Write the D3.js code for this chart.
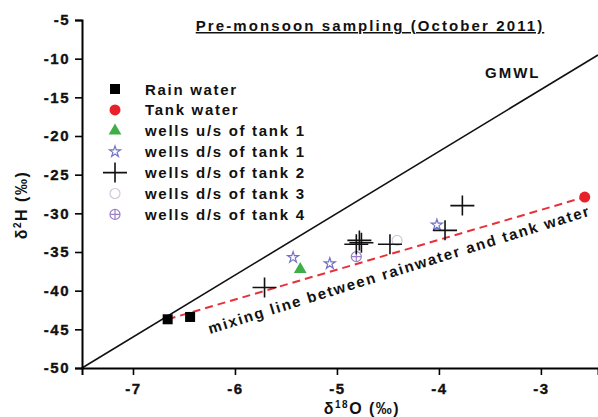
<!DOCTYPE html>
<html>
<head>
<meta charset="utf-8">
<script src="https://cdn.jsdelivr.net/npm/d3@7"></script>
<style>
  body { margin: 0; background: #fff; }
  svg { display: block; font-family: 'Liberation Sans', Arial, sans-serif; }
  .txt { font-weight: bold; fill: #111; }
</style>
</head>
<body>
<svg id="chart" width="598" height="417"></svg>
<script>
// values (delta 18O, delta 2H)
const xTicks = [-7, -6, -5, -4, -3];
const yTicks = [-50, -45, -40, -35, -30, -25, -20, -15, -10, -5];
const rainWater = [[-6.66, -43.7], [-6.44, -43.4]];
const tankWater = [[-2.57, -27.9]];
const wellsUs1 = [[-5.36, -37.25]];
const wellsDs1 = [[-5.43, -35.7], [-5.07, -36.5], [-4.02, -31.5]];
const wellsDs2 = [[-5.71, -39.6], [-4.81, -34.0], [-4.78, -33.5], [-4.76, -33.8], [-4.48, -34.0], [-3.94, -32.2], [-3.77, -29.0]];
const wellsDs3 = [[-4.41, -33.5]];
const wellsDs4 = [[-4.81, -35.6]];
const legendLabels = ['Rain water', 'Tank water', 'wells u/s of tank 1', 'wells d/s of tank 1',
  'wells d/s of tank 2', 'wells d/s of tank 3', 'wells d/s of tank 4'];
const gmwlSlope = 8;
const gmwlIntercept = 10;

const svg = d3.select('#chart');
const x = d3.scaleLinear().domain([-7.5, -2.44]).range([82, 598]);
const y = d3.scaleLinear().domain([-50, -5]).range([368, 20]);

// markers, one drawer per series
const marker = {
  rain: (g) => g.append('rect').attr('x', -5).attr('y', -5).attr('width', 10).attr('height', 10).attr('fill', '#000'),
  tank: (g) => g.append('circle').attr('r', 5.5).attr('fill', '#e8202a'),
  us1: (g) => g.append('path').attr('d', d3.symbol(d3.symbolTriangle, 70)()).attr('fill', '#3fae49'),
  ds1: (g) => g.append('path').attr('d', d3.symbol(d3.symbolStar, 38)()).attr('fill', 'none')
    .attr('stroke', '#7272c4').attr('stroke-width', 1.2),
  ds2: (g) => g.append('path').attr('d', 'M-12,0H12M0,-10V10').attr('stroke', '#111').attr('stroke-width', 1.6),
  ds3: (g) => g.append('circle').attr('r', 5).attr('fill', 'none').attr('stroke', '#d6c6dc').attr('stroke-width', 1.2),
  ds4: (g) => {
    g.append('circle').attr('r', 5).attr('fill', 'none').attr('stroke', '#9a80c8').attr('stroke-width', 1.2);
    g.append('path').attr('d', 'M-5,0H5M0,-5V5').attr('stroke', '#9a80c8').attr('stroke-width', 1.2);
  }
};
const legendKeys = ['rain', 'tank', 'us1', 'ds1', 'ds2', 'ds3', 'ds4'];

// GMWL
svg.append('line')
  .attr('x1', x(-7.5)).attr('y1', y(gmwlSlope * -7.5 + gmwlIntercept))
  .attr('x2', x(-2.44)).attr('y2', y(gmwlSlope * -2.44 + gmwlIntercept))
  .attr('stroke', '#111').attr('stroke-width', 1.6);

svg.append('text').attr('class', 'txt')
  .attr('x', 485).attr('y', 78)
  .style('font-size', '15px').style('letter-spacing', '2px')
  .text('GMWL');

// mixing line between rainwater and tank water
svg.append('line')
  .attr('x1', x(rainWater[0][0])).attr('y1', y(rainWater[0][1]))
  .attr('x2', x(tankWater[0][0])).attr('y2', y(tankWater[0][1]))
  .attr('stroke', '#e8303a').attr('stroke-width', 2).attr('stroke-dasharray', '8,5');

svg.append('text').attr('class', 'txt')
  .attr('transform', 'translate(210,334) rotate(-17.3)')
  .style('font-size', '15px').style('letter-spacing', '1.75px')
  .text('mixing line between rainwater and tank water');

// axes
const tickFmt = (d) => String(d);
const xAxis = svg.append('g').attr('transform', 'translate(0,368)');
xAxis.call(d3.axisBottom(x).tickValues(d3.range(-7.5, -2.4, 0.5)).tickSize(4).tickFormat(''));
xAxis.call(d3.axisBottom(x).tickValues(xTicks).tickSize(7).tickPadding(5).tickFormat(tickFmt));

const yAxis = svg.append('g').attr('transform', 'translate(82,0)');
yAxis.call(d3.axisLeft(y).tickValues(d3.range(-50, -4, 2.5)).tickSize(4).tickFormat(''));
yAxis.call(d3.axisLeft(y).tickValues(yTicks).tickSize(7).tickPadding(5).tickFormat(tickFmt));

[xAxis, yAxis].forEach((ax) => {
  ax.selectAll('.domain').attr('stroke-width', 2);
  ax.selectAll('line').attr('stroke-width', 1.6);
  ax.selectAll('.tick text')
    .style('font-family', "'Liberation Sans', Arial, sans-serif")
    .style('font-size', '15px').style('font-weight', 'bold')
    .style('letter-spacing', '1.5px')
    .attr('fill', '#111').attr('stroke', '#111').attr('stroke-width', 0.35);
});
xAxis.selectAll('.tick text').attr('dy', '0.95em');

// axis titles
const xTitle = svg.append('text').attr('class', 'txt')
  .attr('x', 362).attr('y', 414).attr('text-anchor', 'middle')
  .style('font-size', '16px').style('letter-spacing', '1.5px');
xTitle.append('tspan').text('δ');
xTitle.append('tspan').attr('dy', -6).style('font-size', '10px').text('18');
xTitle.append('tspan').attr('dy', 6).text('O  (‰)');

const yTitle = svg.append('text').attr('class', 'txt')
  .attr('transform', 'translate(27,205) rotate(-90)').attr('text-anchor', 'middle')
  .style('font-size', '16px').style('letter-spacing', '1.5px');
yTitle.append('tspan').text('δ');
yTitle.append('tspan').attr('dy', -6).style('font-size', '10px').text('2');
yTitle.append('tspan').attr('dy', 6).text('H (‰)');

// title
svg.append('text').attr('class', 'txt')
  .attr('x', 370).attr('y', 31).attr('text-anchor', 'middle')
  .style('font-size', '15px').style('letter-spacing', '2.1px')
  .style('text-decoration', 'underline')
  .text('Pre-monsoon sampling (October 2011)');

// data points
const series = [
  ['rain', rainWater], ['tank', tankWater], ['us1', wellsUs1], ['ds1', wellsDs1],
  ['ds3', wellsDs3], ['ds4', wellsDs4], ['ds2', wellsDs2]
];
series.forEach(([key, values]) => {
  svg.append('g').selectAll('g')
    .data(values)
    .enter().append('g')
      .attr('transform', (d) => `translate(${x(d[0])},${y(d[1])})`)
      .each(function () { marker[key](d3.select(this)); });
});

// legend
const legend = svg.append('g').attr('transform', 'translate(115,89)');
legendKeys.forEach((key, i) => {
  const row = legend.append('g').attr('transform', `translate(0,${i * 20.9})`);
  marker[key](row);
  row.append('text').attr('class', 'txt')
    .attr('x', 30).attr('y', 5.5)
    .style('font-size', '15px').style('letter-spacing', '1.7px')
    .text(legendLabels[i]);
});
</script>
</body>
</html>
